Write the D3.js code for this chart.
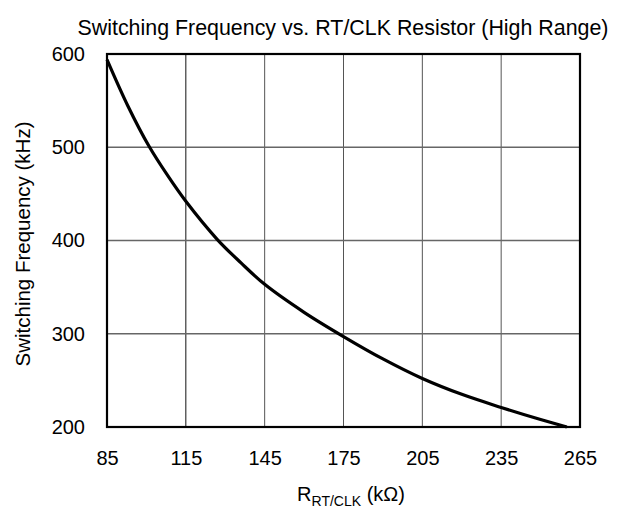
<!DOCTYPE html>
<html><head><meta charset="utf-8">
<script src="https://cdn.jsdelivr.net/npm/d3@7"></script>
<style>body{margin:0;background:#fff}text{font-family:"Liberation Sans",Arial,sans-serif;fill:#000}</style>
</head><body><svg id="c" width="620" height="510"></svg>
<script>
const resistance = [85, 93, 101, 108, 115, 127, 136, 145, 160, 175, 190, 205, 220, 235, 250, 260];
const frequency  = [594, 544, 501, 470, 442, 401, 376, 353, 323, 297, 273, 252, 235, 221, 208, 200];
const xTicks = [85, 115, 145, 175, 205, 235, 265];
const yTicks = [200, 300, 400, 500, 600];

const svg = d3.select("#c");
const L = 107, R = 580, T = 54, B = 427;
const x = d3.scaleLinear().domain([85, 265]).range([L, R]);
const y = d3.scaleLinear().domain([200, 600]).range([B, T]);

// grid
svg.append("g").selectAll("line").data(xTicks.slice(1, -1)).join("line")
  .attr("x1", d => x(d)).attr("x2", d => x(d)).attr("y1", T).attr("y2", B)
  .attr("stroke", (d, i) => i === 0 ? "#111" : "#555").attr("stroke-width", 1);
svg.append("g").selectAll("line").data(yTicks.slice(1, -1)).join("line")
  .attr("y1", d => y(d)).attr("y2", d => y(d)).attr("x1", L).attr("x2", R)
  .attr("stroke", "#666").attr("stroke-width", 1.3);

// axes labels via d3 axes (no lines)
const xa = svg.append("g").attr("transform", `translate(0,${B})`)
  .call(d3.axisBottom(x).tickValues(xTicks).tickSize(0).tickPadding(24).tickFormat(d3.format("d")));
xa.select(".domain").remove();
xa.attr("font-size", 20).attr("font-family", "Liberation Sans, Arial, sans-serif");
xa.selectAll("text").attr("fill", "#000");
const ya = svg.append("g").attr("transform", `translate(${L},0)`)
  .call(d3.axisLeft(y).tickValues(yTicks).tickSize(0).tickPadding(22).tickFormat(d3.format("d")));
ya.select(".domain").remove();
ya.attr("font-size", 20).attr("font-family", "Liberation Sans, Arial, sans-serif");
ya.selectAll("text").attr("fill", "#000");

// curve
const pts = resistance.map((r, i) => [r, frequency[i]]);
svg.append("path").datum(pts)
  .attr("d", d3.line().x(d => x(d[0])).y(d => y(d[1])).curve(d3.curveCatmullRom))
  .attr("fill", "none").attr("stroke", "#000").attr("stroke-width", 3.2);

// border
svg.append("rect").attr("x", L).attr("y", T).attr("width", R - L).attr("height", B - T)
  .attr("fill", "none").attr("stroke", "#000").attr("stroke-width", 2.2);

// title
svg.append("text").attr("x", 343).attr("y", 35).attr("text-anchor", "middle")
  .attr("font-size", 21.4).text("Switching Frequency vs. RT/CLK Resistor (High Range)");

// y label
svg.append("text").attr("transform", "translate(30,244) rotate(-90)").attr("text-anchor", "middle")
  .attr("font-size", 20.5).text("Switching Frequency (kHz)");

// x label
const xl = svg.append("text").attr("x", 351).attr("y", 501).attr("text-anchor", "middle").attr("font-size", 20);
xl.append("tspan").text("R");
xl.append("tspan").attr("font-size", 14).attr("dy", 5).text("RT/CLK");
xl.append("tspan").attr("dy", -5).text(" (kΩ)");
</script></body></html>
